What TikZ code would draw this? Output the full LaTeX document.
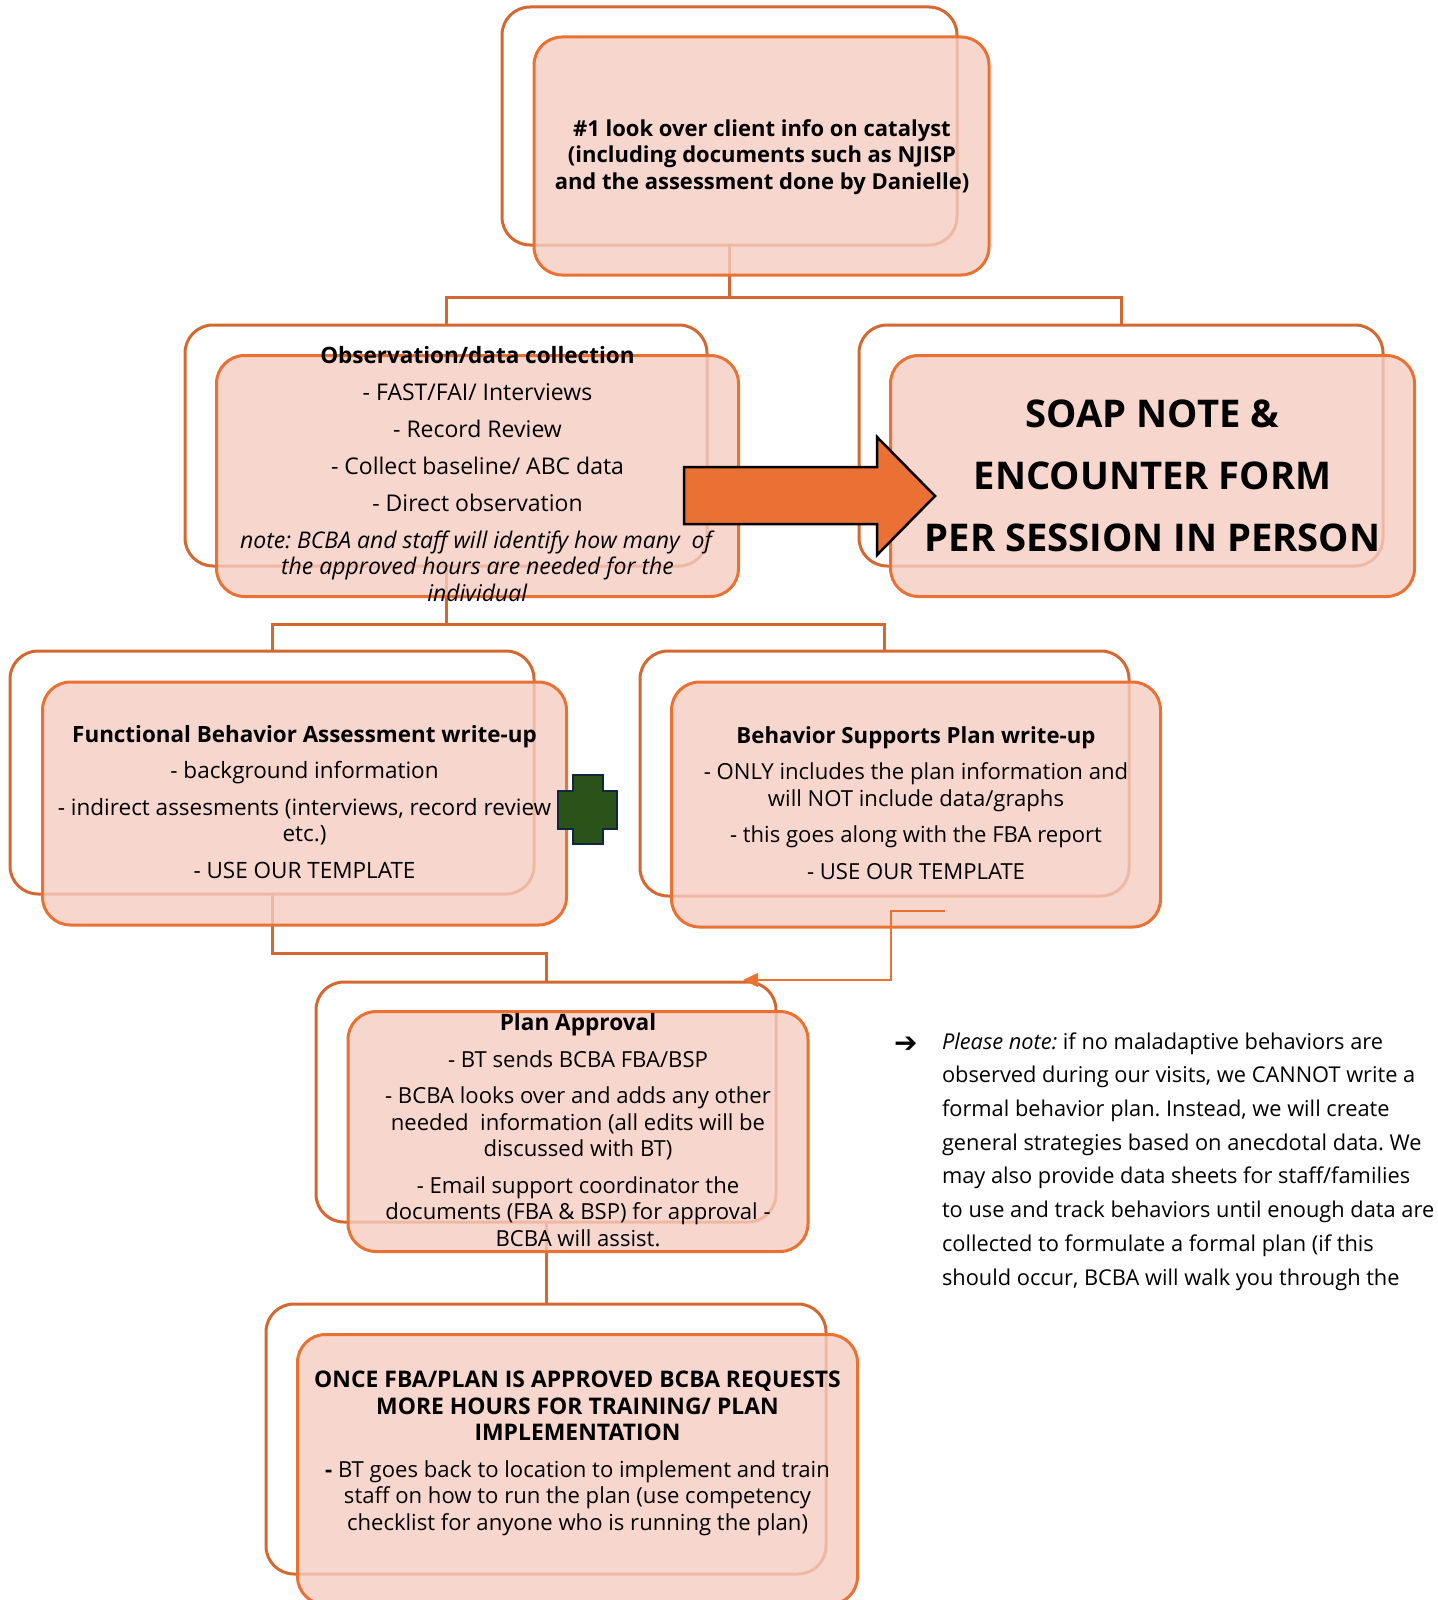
\documentclass[tikz,border=0pt]{standalone}
\usepackage{fontspec}
\setmainfont{Open Sans}
\newfontfamily\dejavu{DejaVu Sans}
\usetikzlibrary{arrows.meta}
\definecolor{backline}{RGB}{212,104,48}
\definecolor{frontline}{RGB}{233,113,50}
\definecolor{frontfill}{RGB}{245,204,193}
\definecolor{arrowfill}{RGB}{234,113,51}
\definecolor{crossfill}{RGB}{43,82,25}
\definecolor{crossline}{RGB}{14,40,65}
\newcommand{\fsz}[1]{\fontsize{#1}{26.5}\selectfont}
\begin{document}
\frenchspacing
\begin{tikzpicture}[x=1pt,y=-1pt,
  backbox/.style={draw=backline, line width=3pt, rounded corners=28pt, inner sep=0pt, outer sep=0pt},
  frontbox/.style={draw=frontline, line width=3pt, rounded corners=28pt, fill=frontfill, fill opacity=0.8, inner sep=0pt, outer sep=0pt},
  conn/.style={draw=backline, line width=3pt},
  thinconn/.style={draw=frontline, line width=1.5pt, -{Triangle[length=15pt,width=14pt]}},
  boxtext/.style={inner sep=0pt, outer sep=0pt, align=center, anchor=base, font=\fsz{22}},
  boldtext/.style={boxtext, font=\bfseries\fsz{22}},
  soaptext/.style={inner sep=0pt, outer sep=0pt, align=center, anchor=base, font=\bfseries\fontsize{38.2}{62}\selectfont},
  notetext/.style={inner sep=0pt, outer sep=0pt, align=left, anchor=base west, font=\fontsize{21.8}{33.7}\selectfont},
]
\useasboundingbox (0,0) rectangle (1437,1600);
\clip (0,0) rectangle (1437,1600);

% back boxes
\node[backbox, minimum width=455pt, minimum height=238pt] (topb) at (729.5,126) {};
\node[backbox, minimum width=522pt, minimum height=241pt] (obsb) at (446,445.5) {};
\node[backbox, minimum width=524pt, minimum height=241pt] (soapb) at (1121,445.5) {};
\node[backbox, minimum width=524pt, minimum height=243pt] (fbab) at (272,772.5) {};
\node[backbox, minimum width=489pt, minimum height=245pt] (bspb) at (884.5,773.5) {};
\node[backbox, minimum width=460pt, minimum height=240pt] (planb) at (546,1102) {};
\node[backbox, minimum width=560pt, minimum height=270pt] (lastb) at (546,1439) {};

% connectors
\coordinate (j1) at (729.5,297);
\coordinate (j2) at (446,624);
\coordinate (j3) at (272,953);
\draw[conn] (topb.south) -- (j1) -| (obsb.north);
\draw[conn] (j1) -| (soapb.north);
\draw[conn] (obsb.south) -- (j2) -| (fbab.north);
\draw[conn] (j2) -| (bspb.north);
\draw[conn] (fbab.south) -- (j3) -| (planb.north);
\draw[conn] (planb.south) -- (lastb.north);

% front boxes
\node[frontbox, minimum width=455pt, minimum height=238pt] (topf) at (761.5,156) {};
\node[frontbox, minimum width=522pt, minimum height=241pt] (obsf) at (477.5,476) {};
\node[frontbox, minimum width=524pt, minimum height=241pt] (soapf) at (1152.5,476) {};
\node[frontbox, minimum width=524pt, minimum height=243pt] (fbaf) at (304.5,803.5) {};
\node[frontbox, minimum width=489pt, minimum height=245pt] (bspf) at (916,804.5) {};
\node[frontbox, minimum width=460pt, minimum height=240pt] (planf) at (578,1131.5) {};
\node[frontbox, minimum width=560pt, minimum height=270pt] (lastf) at (577.5,1469.5) {};

% big arrow
\draw[fill=arrowfill, draw=black, line width=2.5pt, line join=miter]
  (684,467) -- (877,467) -- (877,437) -- (935,496) -- (877,555) -- (877,524) -- (684,524) -- cycle;

% green cross
\draw[fill=crossfill, draw=crossline, line width=2.5pt, line join=miter]
  (573,775) -- (603,775) -- (603,791) -- (617,791) -- (617,829) -- (603,829) -- (603,844)
  -- (573,844) -- (573,829) -- (558,829) -- (558,791) -- (573,791) -- cycle;

% thin connector BSP -> Plan
\coordinate (bspout) at (945,911);
\coordinate (planin) at (743,980);
\draw[thinconn] (bspout) -- (891,911) |- (planin);

% texts (anchor base = baseline of the last line)
\node[boldtext] (toptext) at (762,189)
  {\#1 look over client info on catalyst\\(including documents such as NJISP\\and the assessment done by Danielle)};

\node[boxtext, font=\fsz{23}] (obstext) at (477.5,601)
  {{\bfseries\fsz{22.5}Observation/data collection}\\[10.5pt]
   - FAST/FAI/ Interviews\\[10.5pt]
   - Record Review\\[10.5pt]
   - Collect baseline/ ABC data\\[10.5pt]
   - Direct observation\\[10.5pt]
   \textit{note: BCBA and staff will identify how many\ \ of}\\
   \textit{the approved hours are needed for the}\\
   \textit{individual}};

\node[soaptext] (soaptxt) at (1152.5,551)
  {SOAP NOTE \&\\ENCOUNTER FORM\\PER SESSION IN PERSON};

\node[boxtext, font=\fsz{22.5}] (fbatext) at (304.5,878)
  {{\bfseries\fsz{22.4}Functional Behavior Assessment write-up}\\[10pt]
   - background information\\[10pt]
   - indirect assesments (interviews, record review\\
   etc.)\\[10pt]
   - USE OUR TEMPLATE};

\node[boxtext, font=\fsz{22.1}] (bsptext) at (916,879)
  {{\bfseries\fsz{22.2}Behavior Supports Plan write-up}\\[10pt]
   - ONLY includes the plan information and\\
   will NOT include data/graphs\\[10pt]
   - this goes along with the FBA report\\[10pt]
   - USE OUR TEMPLATE};

\node[boxtext, font=\fsz{22.1}] (plantext) at (578,1246)
  {{\bfseries\fsz{22.6}Plan Approval}\\[10pt]
   - BT sends BCBA FBA/BSP\\[10pt]
   - BCBA looks over and adds any other\\
   needed\ \ information (all edits will be\\
   discussed with BT)\\[10pt]
   - Email support coordinator the\\
   documents (FBA \& BSP) for approval -\\
   BCBA will assist.};

\node[boxtext, font=\fsz{22.1}] (lasttext) at (577.5,1530)
  {{\bfseries\fsz{22.9}ONCE FBA/PLAN IS APPROVED BCBA REQUESTS}\\
   {\bfseries\fsz{22.9}MORE HOURS FOR TRAINING/ PLAN}\\
   {\bfseries\fsz{22.9}IMPLEMENTATION}\\[10pt]
   \textbf{-} BT goes back to location to implement and train\\
   staff on how to run the plan (use competency\\
   checklist for anyone who is running the plan)};

% note
\node[inner sep=0pt, anchor=base west, font=\dejavu\bfseries\fontsize{28}{28}\selectfont] (notearrow) at (894,1052) {➔};
\node[notetext] (note) at (942,1285)
  {\textit{Please note:} if no maladaptive behaviors are\\
   observed during our visits, we CANNOT write a\\
   formal behavior plan. Instead, we will create\\
   general strategies based on anecdotal data. We\\
   may also provide data sheets for staff/families\\
   to use and track behaviors until enough data are\\
   collected to formulate a formal plan (if this\\
   should occur, BCBA will walk you through the};
\end{tikzpicture}
\end{document}
